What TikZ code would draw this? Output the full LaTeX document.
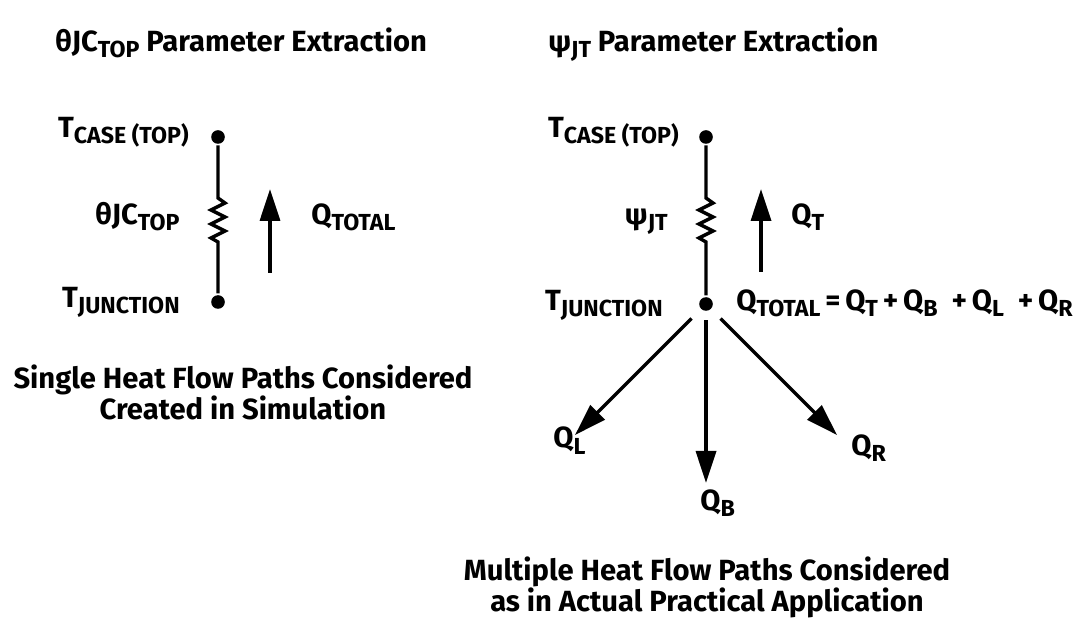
\documentclass[tikz,border=0pt]{standalone}
\usepackage{fontspec}
\setmainfont{Fira Sans}
\usetikzlibrary{arrows.meta}
\newcommand{\lo}[1]{\raisebox{-3pt}{\fontsize{11.6}{12}\selectfont #1}}

\begin{document}
\begin{tikzpicture}[x=0.5pt, y=-0.5pt, line width=1.7pt,
	font=\fontsize{14.6}{15.5}\selectfont\bfseries,
	dot/.style={circle, fill=black, inner sep=0pt, minimum size=6.8pt},
	flow/.style={-{Triangle[length=16pt,width=10pt]}}]
	\useasboundingbox (0,0) rectangle (1080,640);

	\node[anchor=base west] (titleTheta) at (47,52) {θJC\lo{TOP} Parameter Extraction};
	\node[anchor=base west] (titlePsi) at (540,52) {ψ\lo{JT} Parameter Extraction};

	\node[dot] (caseA) at (218,137) {};
	\node[dot] (juncA) at (218,302) {};
	\draw (caseA) -- (218,198) -- ++(7,5) -- ++(-14,7) -- ++(14,7) -- ++(-14,7) -- ++(14,7) -- ++(-14,7) -- ++(7,4) -- (juncA);
	\coordinate (qA0) at (270,273);
	\coordinate (qA1) at (270,189);
	\draw[flow] (qA0) -- (qA1);

	\node[anchor=base east] (caseAlbl) at (197,138) {T\lo{CASE (TOP)}};
	\node[anchor=base east] (thetaLbl) at (188,225) {θJC\lo{TOP}};
	\node[anchor=base west] (qtotA) at (303,225) {Q\lo{TOTAL}};
	\node[anchor=base east] (juncAlbl) at (188,308) {T\lo{JUNCTION}};

	\node[align=center] (noteA) at (243,392) {Single Heat Flow Paths Considered\\Created in Simulation};

	\node[dot] (caseB) at (706,137) {};
	\node[dot] (juncB) at (706,304) {};
	\draw (caseB) -- (706,198) -- ++(7,5) -- ++(-14,7) -- ++(14,7) -- ++(-14,7) -- ++(14,7) -- ++(-14,7) -- ++(7,4) -- (juncB);
	\coordinate (qB0) at (761,272);
	\coordinate (qB1) at (761,189);
	\draw[flow] (qB0) -- (qB1);

	\node[anchor=base east] (caseBlbl) at (687,138) {T\lo{CASE (TOP)}};
	\node[anchor=base east] (psiLbl) at (676,225) {ψ\lo{JT}};
	\node[anchor=base west] (qT) at (783,225) {Q\lo{T}};
	\node[anchor=base east] (juncBlbl) at (671,311) {T\lo{JUNCTION}};
	\node[anchor=base west] (qsum) at (728,311) {Q\lo{TOTAL}\,=\,Q\lo{T}\,+\,Q\lo{B}\ \ +\,Q\lo{L}\ \ +\,Q\lo{R}};

	\coordinate (tipL) at (575,435);
	\coordinate (tipB) at (706,483);
	\coordinate (tipR) at (837,435);
	\draw[flow, shorten <=6pt] (juncB) -- (tipL);
	\draw[flow, shorten <=4pt] (juncB) -- (tipB);
	\draw[flow, shorten <=6pt] (juncB) -- (tipR);

	\node[anchor=base west] (qL) at (545,448) {Q\lo{L}};
	\node[anchor=base west] (qB) at (692,510) {Q\lo{B}};
	\node[anchor=base west] (qR) at (843,455) {Q\lo{R}};

	\node[align=center] (noteB) at (707,587) {Multiple Heat Flow Paths Considered\\as in Actual Practical Application};
\end{tikzpicture}
\end{document}
